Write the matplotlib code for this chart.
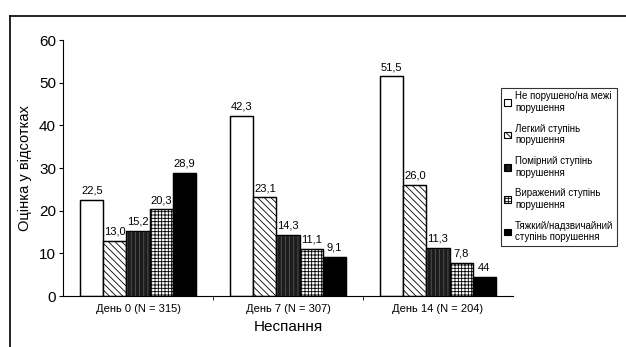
import matplotlib.pyplot as plt
from matplotlib.lines import Line2D
from matplotlib.patches import Patch
import numpy as np

plt.rcParams["font.family"] = ["Liberation Sans Narrow", "Liberation Sans", "DejaVu Sans"]
plt.rcParams["hatch.linewidth"] = 0.6

groups = ["День 0 (N = 315)", "День 7 (N = 307)", "День 14 (N = 204)"]
categories = [
    "Не порушено/на межі\nпорушення",
    "Легкий ступінь\nпорушення",
    "Помірний ступінь\nпорушення",
    "Виражений ступінь\nпорушення",
    "Тяжкий/надзвичайний\nступінь порушення",
]
values = [
    [22.5, 42.3, 51.5],
    [13.0, 23.1, 26.0],
    [15.2, 14.3, 11.3],
    [20.3, 11.1, 7.8],
    [28.9, 9.1, 4.4],
]
value_labels = [
    ["22,5", "42,3", "51,5"],
    ["13,0", "23,1", "26,0"],
    ["15,2", "14,3", "11,3"],
    ["20,3", "11,1", "7,8"],
    ["28,9", "9,1", "44"],
]

styles = [
    dict(facecolor="white", hatch=None),
    dict(facecolor="white", hatch="\\\\\\\\\\"),
    dict(facecolor="#1c1c1c", hatch="||||"),
    dict(facecolor="white", hatch="+++++"),
    dict(facecolor="black", hatch=None),
]

fig = plt.figure(figsize=(6.26, 3.47), dpi=100)
ax = fig.add_axes([63 / 626, 1 - 296 / 347, 450 / 626, 256 / 347])

x = np.arange(len(groups))
width = 0.154
for i, (vals, labs, st) in enumerate(zip(values, value_labels, styles)):
    pos = x + (i - 2) * width
    ec = "#555555" if st["facecolor"] == "#1c1c1c" else "black"
    ax.bar(pos, vals, width, facecolor=st["facecolor"], hatch=st["hatch"],
           edgecolor=ec, linewidth=0.9)
    for p, v, lab in zip(pos, vals, labs):
        ax.text(p, v + 1.0, lab, ha="center", va="bottom", fontsize=8)
    # outline in black
    ax.bar(pos, vals, width, facecolor="none", edgecolor="black", linewidth=0.9)

ax.set_xlim(-0.5, 2.5)
ax.set_ylim(0, 60)
ax.set_yticks(range(0, 61, 10))
ax.set_xticks(x)
ax.set_xticklabels(groups, fontsize=8)
ax.set_xticks([0.5, 1.5], minor=True)
ax.tick_params(axis="x", which="major", length=0, pad=6)
ax.tick_params(axis="x", which="minor", length=3, direction="out")
ax.tick_params(axis="y", labelsize=11, length=3, pad=2)
ax.spines["top"].set_visible(False)
ax.spines["right"].set_visible(False)
ax.set_ylabel("Оцінка у відсотках", fontsize=10.5, labelpad=5)
ax.set_xlabel("Неспання", fontsize=11, labelpad=4)

handles = []
for cat, st in zip(categories, styles):
    handles.append(Patch(facecolor=st["facecolor"], hatch=st["hatch"],
                         edgecolor="black", linewidth=0.8, label=cat))
leg = fig.legend(handles=handles, loc="upper left",
                 bbox_to_anchor=(501 / 626, 1 - 88 / 347), fontsize=7,
                 frameon=True, fancybox=False, edgecolor="black",
                 handlelength=0.7, handleheight=0.7, handletextpad=0.4,
                 labelspacing=1.1, borderpad=0.35, borderaxespad=0)
leg.get_frame().set_linewidth(0.8)

# page frame (top and left)
fig.add_artist(Line2D([10 / 626, 1], [1 - 16 / 347, 1 - 16 / 347], color="black", lw=1.2))
fig.add_artist(Line2D([10 / 626, 10 / 626], [0, 1 - 16 / 347], color="black", lw=1.2))

fig.savefig("out.png", dpi=100)
